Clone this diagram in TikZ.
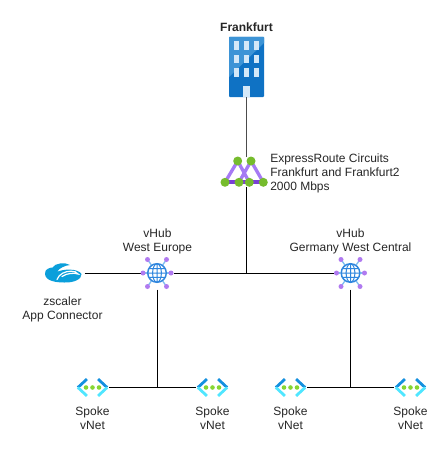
\documentclass[tikz,border=0pt]{standalone}
\usepackage{fontspec}
\setmainfont{Liberation Sans}
\definecolor{bldblue}{HTML}{0F72C4}
\definecolor{bldlight}{HTML}{3D94D6}
\definecolor{winblue}{HTML}{D3E8F8}
\definecolor{zsblue}{HTML}{0B9FDB}
\definecolor{erpurple}{HTML}{A67AF4}
\definecolor{erdark}{HTML}{7A3FD6}
\definecolor{ergreen}{HTML}{76BC2D}
\definecolor{hubpurple}{HTML}{B07AF0}
\definecolor{hubblue}{HTML}{2F86DE}
\definecolor{hubspoke}{HTML}{7FBDF0}
\definecolor{vnblue}{HTML}{1490DF}
\definecolor{vncyan}{HTML}{50E6FF}
\definecolor{vngreen}{HTML}{86D633}
\tikzset{
    lbl/.style={font=\fontsize{9pt}{10.5pt}\selectfont,align=center,inner sep=0pt,text=black!85},
    anchorbox/.style 2 args={inner sep=0pt,outer sep=0pt,minimum width=#1*0.75pt,minimum height=#2*0.75pt},
    link/.style={line width=0.75pt},
    pics/building/.style={code={
        \fill[bldblue,rounded corners=0.6] (-17.5,-30) rectangle (17.5,30);
        \fill[bldlight] (-17.5,-30) -- (17.5,-30) -- (17.5,-24) -- (-17.5,10) -- cycle;
        \foreach \i in {-10,0,10}
            \foreach \j in {-21.5,-8,5.5}
                \fill[winblue] (\i-2.5,\j-4.2) rectangle (\i+2.5,\j+4.2);
        \fill[winblue] (-3.7,19) rectangle (3.7,30);
    }},
    pics/circuit/.style={code={
        \draw[erpurple,line width=2.5pt] (-21.5,10.3)--(-8.8,-11)--(2.8,10.3) (-7.5,10.3)--(4.5,-11)--(16.8,10.3);
        \draw[erdark,line width=2.8pt] (-21.5,10.3)--(16.8,10.3);
        \foreach \p/\q in {-8.8/-11,4.5/-11,-21.5/10.3,-7.5/10.3,2.8/10.3,16.8/10.3}
            \fill[ergreen] (\p,\q) circle (4.5);
    }},
    pics/hub/.style={code={
        \foreach \p/\q in {-14/0,14/0,-9.5/-13.5,9.5/-13.5,-9.5/13.5,9.5/13.5}{
            \draw[hubspoke,line width=1pt] (0,0) -- (\p,\q);
            \fill[hubpurple] (\p,\q) circle (2.5);
        }
        \fill[white] (0,0) circle (10);
        \draw[hubblue,line width=1.1pt] (0,0) circle (9.3);
        \draw[hubblue,line width=0.75pt] (0,0) ellipse (4.4 and 9.3) (-9.3,0)--(9.3,0) (0,-9.3)--(0,9.3)
            (-8.2,-4.3)--(8.2,-4.3) (-8.2,4.3)--(8.2,4.3);
    }},
    pics/zlogo/.style={code={
        \fill[zsblue] (-18,1) .. controls (-18.5,-4) and (-13,-5.5) .. (-10.5,-5.5)
            .. controls (-8,-10) and (2,-11) .. (7,-8)
            .. controls (2,-7.5) and (-4,-5) .. (-6,-1)
            .. controls (-1,-4) and (15,-5) .. (18.5,1)
            .. controls (19,6) and (11,10) .. (1,9.5)
            .. controls (-7,9.5) and (-17.5,8) .. (-18,1) -- cycle;
        \draw[white,line width=0.9pt,line cap=round] (-6,6.5) .. controls (-4,1) and (2,-1.8) .. (8,-1.8)
            .. controls (11,-1.8) and (14,-1) .. (15,1)
            .. controls (11,-0.3) and (4,0) .. (-1,3.5);
    }},
    pics/vnet/.style={code={
        \draw[vnblue,line width=2.1pt] (-5.6,-8.4)--(-14.6,0);
        \draw[vncyan,line width=2.1pt] (-14.6,0)--(-5.6,8.4);
        \draw[vnblue,line width=2.1pt] (5.6,-8.4)--(14.6,0);
        \draw[vncyan,line width=2.1pt] (14.6,0)--(5.6,8.4);
        \foreach \p in {-6.5,0,6.5}
            \fill[vngreen] (\p,0) circle (2.3);
    }}
}
\begin{document}
\begin{tikzpicture}[x=0.75pt,y=-0.75pt]
    \useasboundingbox (0,0) rectangle (447,453);
    % icons
    \node[anchorbox={35}{60}] (bld) at (246.5,67) {};
    \node[anchorbox={42}{30}] (er) at (246.5,172) {};
    \node[anchorbox={33}{33}] (hubwe) at (157,273) {};
    \node[anchorbox={33}{33}] (hubgwc) at (350.5,273) {};
    \node[anchorbox={43}{24}] (zs) at (63,273) {};
    \foreach \n/\x in {spa/92.5,spb/212.5,spc/290.5,spd/410.5}
        \node[anchorbox={33}{20}] (\n) at (\x,387.5) {};
    % bus points
    \coordinate (busjoin) at (er.south |- hubwe);
    \coordinate (drpw) at (hubwe.south |- spa);
    \coordinate (drpg) at (hubgwc.south |- spc);
    % links
    \draw[link,black!70] (bld) -- (er);
    \draw[link] (er) -- (busjoin);
    \draw[link] (zs.east) -- (hubwe) -- (hubgwc);
    \draw[link] (hubwe) -- (drpw);
    \draw[link] (hubgwc) -- (drpg);
    \draw[link] (spa) -- (spb);
    \draw[link] (spc) -- (spd);
    % drawn on top of the links
    \pic at (bld) {building};
    \pic at (er) {circuit};
    \pic at (hubwe) {hub};
    \pic at (hubgwc) {hub};
    \pic at (zs) {zlogo};
    \foreach \n in {spa,spb,spc,spd}
        \pic at (\n) {vnet};
    % labels
    \node[lbl] (lblfra) at (246.5,27) {\textbf{Frankfurt}};
    \node[lbl,align=left,anchor=west] (lbler) at (270,173) {ExpressRoute Circuits\\Frankfurt and Frankfurt2\\2000 Mbps};
    \node[lbl] (lblwe) at (157.5,241) {vHub\\West Europe};
    \node[lbl] (lblgwc) at (350.5,241) {vHub\\Germany West Central};
    \node[lbl] (lblzs) at (62.5,309) {zscaler\\App Connector};
    \foreach \n/\x in {a/92.5,b/212.5,c/290.5,d/410.5}
        \node[lbl] (lbl\n) at (\x,418) {Spoke\\vNet};
\end{tikzpicture}
\end{document}
